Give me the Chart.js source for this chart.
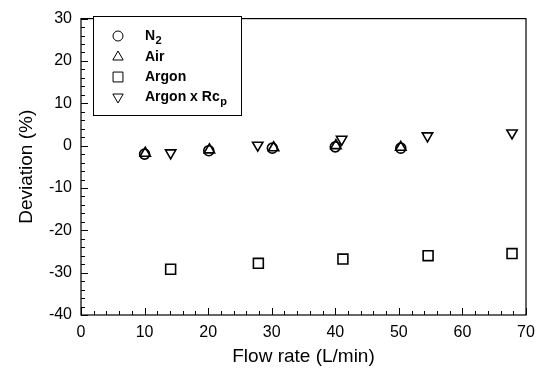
<!DOCTYPE html>
<html>
<head>
<meta charset="utf-8">
<script src="https://cdn.jsdelivr.net/npm/chart.js@4.4.1/dist/chart.umd.min.js"></script>
<style>
  html, body { margin: 0; padding: 0; background: #fff; }
  #wrap { width: 544px; height: 374px; position: relative; }
</style>
</head>
<body>
<div id="wrap"><canvas id="c" width="544" height="374"></canvas></div>
<script>
// Deviation of measured flow versus reference, per gas
const n2Flow   = [10.0, 20.1, 30.1, 40.0, 50.3];
const n2Dev    = [-2.0, -1.2, -0.6, -0.3, -0.6];
const airFlow  = [10.1, 20.2, 30.3, 40.1, 50.3];
const airDev   = [-1.8, -1.0, -0.5, 0.0, -0.4];
const argFlow  = [14.1, 27.9, 41.2, 54.6, 67.8];
const argDev   = [-29.2, -27.8, -26.8, -26.0, -25.5];
const rcpFlow  = [14.1, 27.8, 41.0, 54.5, 67.8];
const rcpDev   = [-1.7, 0.1, 1.5, 2.3, 3.0];

// legend text: [main, subscript]
const seriesLabels = [['N', '2'], ['Air', ''], ['Argon', ''], ['Argon x Rc', 'p']];
const seriesStyles = [
  { pointStyle: 'circle',   rotation: 0,   radius: 5 },
  { pointStyle: 'triangle', rotation: 0,   radius: 6 },
  { pointStyle: 'rect',     rotation: 0,   radius: 7 },
  { pointStyle: 'triangle', rotation: 180, radius: 6 }
];

const xTicks = [0, 10, 20, 30, 40, 50, 60, 70];
const yTicks = [-40, -30, -20, -10, 0, 10, 20, 30];

const pts = (xs, ys) => xs.map((x, i) => ({ x: x, y: ys[i] }));

const FONT = '"Liberation Sans", Arial, sans-serif';

function ds(i, data) {
  const s = seriesStyles[i];
  return {
    label: seriesLabels[i].join(''),
    data: data,
    pointStyle: s.pointStyle,
    rotation: s.rotation,
    pointRadius: s.radius,
    pointBorderWidth: 1.6,
    borderColor: '#000',
    backgroundColor: 'rgba(255,255,255,0)',
    showLine: false
  };
}

// Frame with inward major/minor ticks and a boxed legend
const framePlugin = {
  id: 'frameTicks',
  afterDatasetsDraw(chart) {
    const { ctx, chartArea: a, scales } = chart;
    const xs = scales.x, ys = scales.y;
    ctx.save();
    ctx.strokeStyle = '#000';
    ctx.lineWidth = 1.2;
    ctx.strokeRect(a.left, a.top, a.right - a.left, a.bottom - a.top);
    ctx.lineWidth = 1;
    ctx.beginPath();
    for (let v = xs.min; v <= xs.max + 1e-9; v += 2) {
      const px = Math.round(xs.getPixelForValue(v)) + 0.5;
      const len = (Math.round(v) % 10 === 0) ? 7 : 4;
      ctx.moveTo(px, a.bottom);
      ctx.lineTo(px, a.bottom - len);
    }
    for (let v = ys.min; v <= ys.max + 1e-9; v += 2) {
      const py = Math.round(ys.getPixelForValue(v)) + 0.5;
      const len = (Math.round(v) % 10 === 0) ? 7 : 4;
      ctx.moveTo(a.left, py);
      ctx.lineTo(a.left + len, py);
    }
    ctx.stroke();

    // legend
    const bx = 93.5, by = 16.5, bw = 148, bh = 99;
    ctx.fillStyle = '#fff';
    ctx.fillRect(bx, by, bw, bh);
    ctx.lineWidth = 1;
    ctx.strokeRect(bx, by, bw, bh);
    const rowsY = [36, 57, 77, 97];
    seriesLabels.forEach((lab, i) => {
      const s = seriesStyles[i];
      ctx.fillStyle = '#fff';
      ctx.strokeStyle = '#000';
      Chart.helpers.drawPoint(ctx, {
        pointStyle: s.pointStyle, rotation: s.rotation,
        radius: s.radius, borderWidth: 1.2
      }, 118, rowsY[i]);
      ctx.fillStyle = '#000';
      ctx.textBaseline = 'middle';
      ctx.textAlign = 'left';
      ctx.font = 'bold 14px ' + FONT;
      ctx.fillText(lab[0], 145, rowsY[i]);
      if (lab[1]) {
        const w = ctx.measureText(lab[0]).width;
        ctx.font = 'bold 11px ' + FONT;
        ctx.fillText(lab[1], 145 + w + 0.5, rowsY[i] + 5);
      }
    });
    ctx.restore();
  }
};

new Chart(document.getElementById('c'), {
  type: 'scatter',
  data: {
    datasets: [
      ds(0, pts(n2Flow, n2Dev)),
      ds(1, pts(airFlow, airDev)),
      ds(2, pts(argFlow, argDev)),
      ds(3, pts(rcpFlow, rcpDev))
    ]
  },
  options: {
    responsive: false,
    animation: false,
    layout: { padding: { left: 0, top: 13, right: 18, bottom: 0 } },
    plugins: { legend: { display: false }, tooltip: { enabled: false } },
    scales: {
      x: {
        type: 'linear', min: 0, max: 70,
        afterBuildTicks: s => { s.ticks = xTicks.map(v => ({ value: v })); },
        afterFit: s => { s.height = 59; },
        grid: { display: false, drawTicks: false },
        border: { display: false },
        ticks: { color: '#000', font: { family: FONT, size: 16 }, padding: 8, maxRotation: 0 },
        title: { display: true, text: 'Flow rate (L/min)', color: '#000',
                 font: { family: FONT, size: 19 }, padding: { top: 0, bottom: 6 } }
      },
      y: {
        type: 'linear', min: -40, max: 30,
        afterBuildTicks: s => { s.ticks = yTicks.map(v => ({ value: v })); },
        afterFit: s => { s.width = 81; },
        grid: { display: false, drawTicks: false },
        border: { display: false },
        ticks: { color: '#000', font: { family: FONT, size: 16 }, padding: 9 },
        title: { display: true, text: 'Deviation (%)', color: '#000',
                 font: { family: FONT, size: 19 }, padding: { top: 15, bottom: 0 } }
      }
    }
  },
  plugins: [framePlugin]
});
</script>
</body>
</html>
